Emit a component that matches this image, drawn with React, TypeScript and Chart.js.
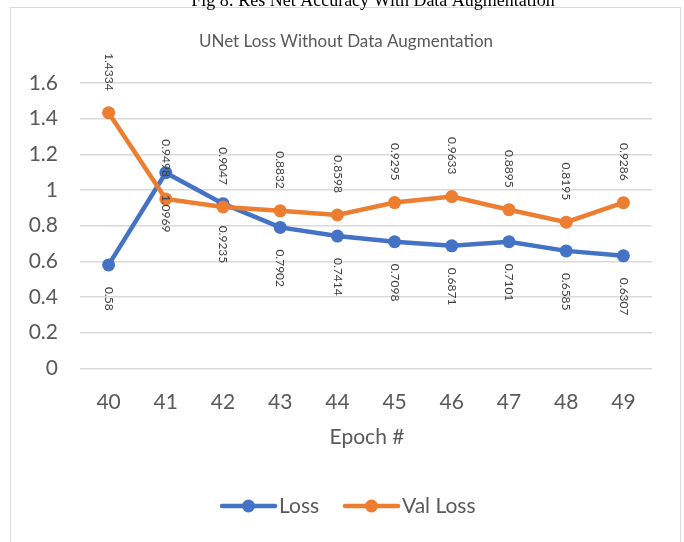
import { useEffect, useRef } from 'react';
import { Chart, registerables } from 'chart.js';

Chart.register(...registerables);

const epochs = ['40', '41', '42', '43', '44', '45', '46', '47', '48', '49'];
const lossValues = [0.58, 1.0969, 0.9235, 0.7902, 0.7414, 0.7098, 0.6871, 0.7101, 0.6585, 0.6307];
const valLossValues = [1.4334, 0.9498, 0.9047, 0.8832, 0.8598, 0.9295, 0.9633, 0.8895, 0.8195, 0.9286];
const seriesNames = ['Loss', 'Val Loss'];
const seriesColors = ['#4472C4', '#ED7D31'];
const chartTitle = 'UNet Loss Without Data Augmentation';
const xAxisTitle = 'Epoch #';
const caption = 'Fig 8: Res Net Accuracy With Data Augmentation';

const W = 684;
const H = 542;
const FONT = 'Lato, "Open Sans", sans-serif';

const extras = {
  id: 'extras',
  beforeDraw(chart: any) {
    const ctx = chart.ctx;
    ctx.save();
    ctx.fillStyle = '#ffffff';
    ctx.fillRect(0, 0, W, H);
    ctx.strokeStyle = '#D9D9D9';
    ctx.lineWidth = 1;
    ctx.strokeRect(10.5, 7.5, 670, 600);
    ctx.fillStyle = '#000000';
    ctx.font = '18px "Liberation Serif", serif';
    ctx.textAlign = 'center';
    ctx.textBaseline = 'alphabetic';
    ctx.fillText(caption, 373, 5.5);
    ctx.restore();
  },
  afterDatasetsDraw(chart: any) {
    const ctx = chart.ctx;
    ctx.save();
    ctx.fillStyle = '#404040';
    ctx.font = '12px ' + FONT;
    ctx.textBaseline = 'middle';
    chart.data.datasets.forEach((ds: any, di: number) => {
      const meta = chart.getDatasetMeta(di);
      meta.data.forEach((pt: any, i: number) => {
        const text = String(ds.data[i]);
        ctx.save();
        if (di === 0) {
          ctx.translate(pt.x, pt.y + 22);
          ctx.rotate(Math.PI / 2);
          ctx.textAlign = 'left';
        } else {
          ctx.translate(pt.x, pt.y - 22);
          ctx.rotate(Math.PI / 2);
          ctx.textAlign = 'right';
        }
        ctx.fillText(text, 0, 0);
        ctx.restore();
      });
    });
    ctx.restore();
  },
  afterDraw(chart: any) {
    const ctx = chart.ctx;
    ctx.save();
    ctx.fillStyle = '#595959';
    ctx.textBaseline = 'middle';
    ctx.textAlign = 'center';
    ctx.font = '17px ' + FONT;
    ctx.fillText(chartTitle, 346, 42);
    ctx.font = '21px ' + FONT;
    ctx.fillText(xAxisTitle, 367, 437);
    const items = [
      { x0: 222, label: seriesNames[0], color: seriesColors[0] },
      { x0: 345, label: seriesNames[1], color: seriesColors[1] },
    ];
    items.forEach((it) => {
      const y = 506;
      ctx.strokeStyle = it.color;
      ctx.lineWidth = 4.5;
      ctx.lineCap = 'round';
      ctx.beginPath();
      ctx.moveTo(it.x0, y);
      ctx.lineTo(it.x0 + 53, y);
      ctx.stroke();
      ctx.fillStyle = it.color;
      ctx.beginPath();
      ctx.arc(it.x0 + 26.5, y, 6.5, 0, Math.PI * 2);
      ctx.fill();
      ctx.fillStyle = '#595959';
      ctx.textAlign = 'left';
      ctx.font = '21px ' + FONT;
      ctx.fillText(it.label, it.x0 + 57, y);
    });
    ctx.restore();
  },
};

export default function App() {
  const ref = useRef<HTMLCanvasElement | null>(null);
  useEffect(() => {
    document.body.style.margin = '0';
    if (!ref.current) return;
    const chart = new Chart(ref.current, {
      type: 'line',
      data: {
        labels: epochs,
        datasets: [
          {
            label: seriesNames[0],
            data: lossValues,
            borderColor: seriesColors[0],
            backgroundColor: seriesColors[0],
            borderWidth: 4.5,
            pointRadius: 6.5,
            pointBorderWidth: 0,
            pointBackgroundColor: seriesColors[0],
            tension: 0,
            order: 2,
          },
          {
            label: seriesNames[1],
            data: valLossValues,
            borderColor: seriesColors[1],
            backgroundColor: seriesColors[1],
            borderWidth: 4.5,
            pointRadius: 6.5,
            pointBorderWidth: 0,
            pointBackgroundColor: seriesColors[1],
            tension: 0,
            order: 1,
          },
        ],
      },
      options: {
        responsive: false,
        animation: false,
        layout: { padding: { top: 83, left: 10, right: 32, bottom: 0 } },
        plugins: {
          legend: { display: false },
          title: { display: false },
          tooltip: { enabled: false },
        },
        scales: {
          x: {
            offset: true,
            grid: { display: false, drawTicks: false },
            border: { display: false },
            ticks: { color: '#595959', font: { size: 21, family: FONT }, padding: 21 },
            afterFit: (s: any) => {
              s.height = 173.7;
            },
          },
          y: {
            min: 0,
            max: 1.6,
            ticks: {
              stepSize: 0.2,
              color: '#595959',
              font: { size: 21, family: FONT },
              padding: 22,
              callback: (v: any) => String(Math.round(Number(v) * 10) / 10),
            },
            grid: { color: '#D9D9D9', lineWidth: 1.5, drawTicks: false },
            border: { display: false },
            afterFit: (s: any) => {
              s.width = 70;
            },
          },
        },
      },
      plugins: [extras],
    });
    return () => chart.destroy();
  }, []);
  return (
    <div style={{ width: W, height: H }}>
      <canvas ref={ref} width={W} height={H} style={{ display: 'block' }} />
    </div>
  );
}
